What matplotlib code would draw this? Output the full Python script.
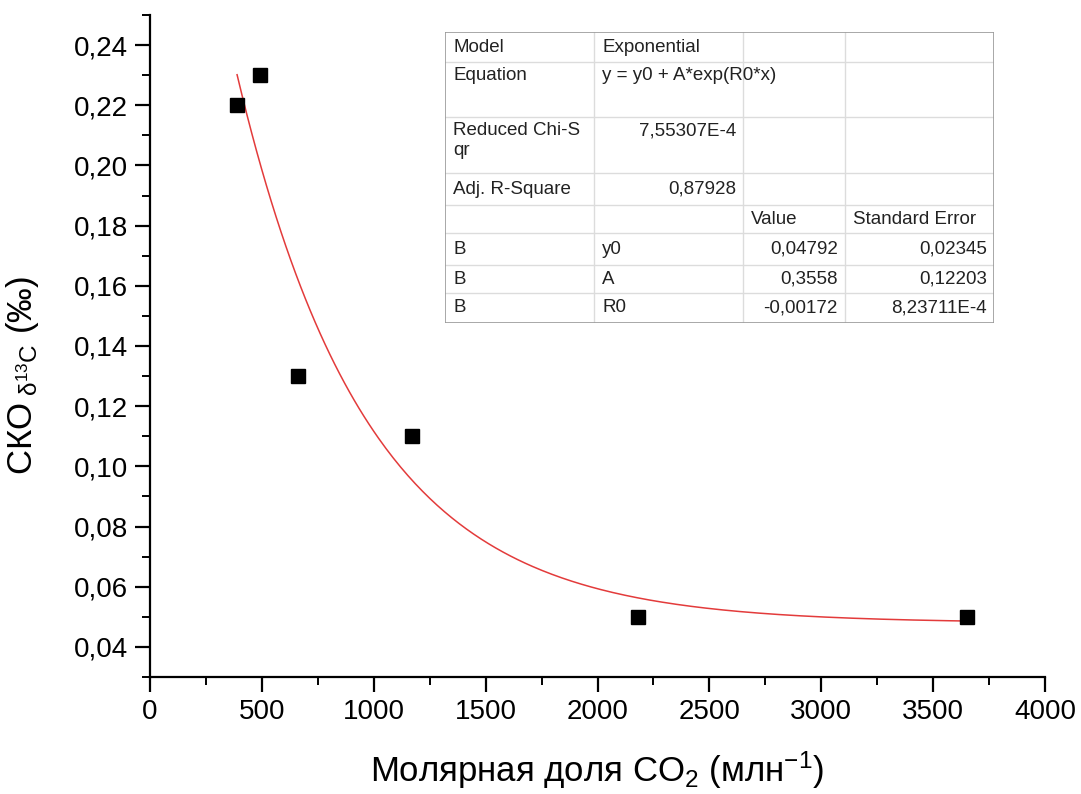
import numpy as np
import matplotlib
matplotlib.use("Agg")
import matplotlib.pyplot as plt
from matplotlib.ticker import MultipleLocator, FuncFormatter

plt.rcParams['font.family'] = ['Liberation Sans', 'DejaVu Sans']
plt.rcParams['mathtext.fontset'] = 'custom'
plt.rcParams['mathtext.rm'] = 'Liberation Sans'
plt.rcParams['mathtext.it'] = 'Liberation Sans'
plt.rcParams['mathtext.default'] = 'regular'

# measured points
co2 = [389, 492, 661, 1171, 2181, 3651]
sko = [0.22, 0.23, 0.13, 0.11, 0.05, 0.05]

# fit parameters (from the table)
y0 = 0.04792
A = 0.3558
R0 = -0.00172

# table contents
table_rows = [
    ["Model", "Exponential", "", ""],
    ["Equation", "y = y0 + A*exp(R0*x)", "", ""],
    ["Reduced Chi-S\nqr", "7,55307E-4", "", ""],
    ["Adj. R-Square", "0,87928", "", ""],
    ["", "", "Value", "Standard Error"],
    ["B", "y0", "0,04792", "0,02345"],
    ["B", "A", "0,3558", "0,12203"],
    ["B", "R0", "-0,00172", "8,23711E-4"],
]

fig = plt.figure(figsize=(10.81, 7.94), dpi=100)
ax = fig.add_axes([0.1388, 0.1474, 0.8279, 0.8337])

xfit = np.linspace(min(co2), max(co2), 300)
ax.plot(xfit, y0 + A * np.exp(R0 * xfit), color='#e33b3b', lw=1.1, zorder=2)
ax.plot(co2, sko, 's', color='black', ms=10, zorder=3)

ax.set_xlim(0, 4000)
ax.set_ylim(0.03, 0.25)
ax.xaxis.set_major_locator(MultipleLocator(500))
ax.xaxis.set_minor_locator(MultipleLocator(250))
ax.yaxis.set_minor_locator(MultipleLocator(0.01))
ax.set_yticks(np.arange(0.04, 0.241, 0.02))
ax.yaxis.set_major_formatter(FuncFormatter(lambda v, p: ("%.2f" % v).replace('.', ',')))
for s in ['top', 'right']:
    ax.spines[s].set_visible(False)
for s in ['left', 'bottom']:
    ax.spines[s].set_linewidth(1.6)
ax.tick_params(which='major', direction='out', length=11, width=1.6, labelsize=20)
ax.tick_params(which='minor', direction='out', length=6, width=1.4)
ax.tick_params(axis='x', pad=5)
ax.tick_params(axis='y', pad=5)

ax.set_xlabel("Молярная доля CO$_2$ (млн$^{-1}$)", fontsize=25)
ax.xaxis.set_label_coords(0.5, -0.11)
ax.set_ylabel("СКО$_{\\ \\delta^{13}C}$ (‰)", fontsize=25)
ax.yaxis.set_label_coords(-0.122, 0.455)

# fit report table, pixel layout
W, H = 1081, 794
tx0, tx1, ty0, ty1 = 445, 994, 32, 323
tab = fig.add_axes([tx0 / W, 1 - ty1 / H, (tx1 - tx0) / W, (ty1 - ty0) / H])
tab.set_xlim(tx0, tx1)
tab.set_ylim(ty1, ty0)
tab.axis('off')
cols = [445, 594, 743, 845, 994]
rows = [32, 62, 117, 173, 205, 233, 265, 293, 323]
for c in cols[1:-1]:
    tab.plot([c, c], [ty0, ty1], color='#dcdcdc', lw=1)
for r in rows[1:-1]:
    tab.plot([tx0, tx1], [r, r], color='#dcdcdc', lw=1)
tab.plot([tx0, tx1, tx1, tx0, tx0], [ty0, ty0, ty1, ty1, ty0], color='#9a9a9a', lw=1.2)

for i, row in enumerate(table_rows):
    top = rows[i]
    mid = (rows[i] + rows[i + 1]) / 2
    for j, txt in enumerate(row):
        if not txt:
            continue
        is_num = txt[0].isdigit() or txt[0] == '-'
        if i in (1, 2):
            yy, va = top + 5, 'top'
        else:
            yy, va = mid, 'center'
        if is_num and j > 0:
            tab.text(cols[j + 1] - 7, yy, txt, ha='right', va=va, fontsize=13.5, color='#222222')
        else:
            tab.text(cols[j] + 8, yy, txt, ha='left', va=va, fontsize=13.5, color='#222222',
                     linespacing=1.25)

fig.savefig("out.png", dpi=100)
